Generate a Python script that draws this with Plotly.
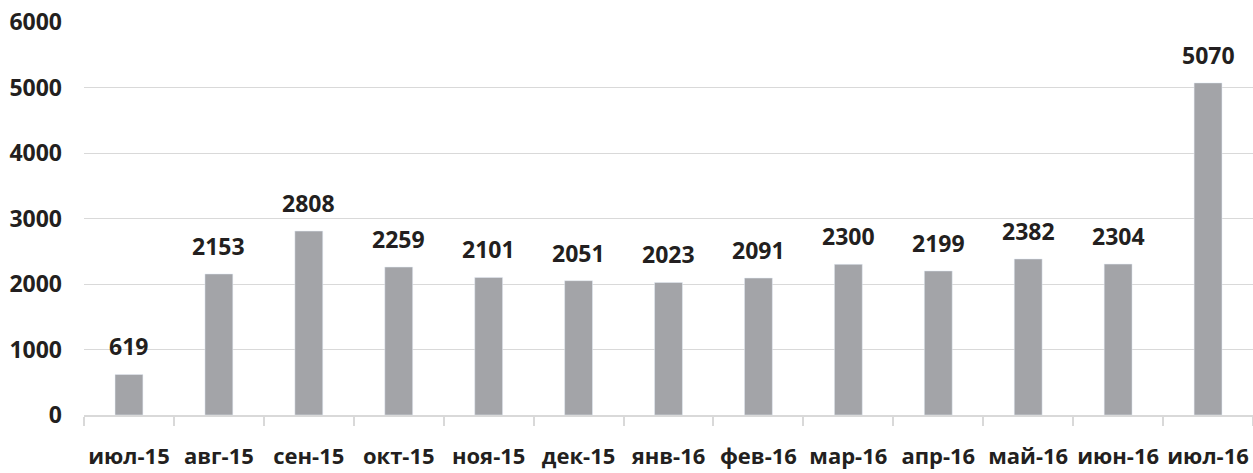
import plotly.graph_objects as go

categories = ["июл-15", "авг-15", "сен-15", "окт-15", "ноя-15", "дек-15", "янв-16",
              "фев-16", "мар-16", "апр-16", "май-16", "июн-16", "июл-16"]
values = [619, 2153, 2808, 2259, 2101, 2051, 2023, 2091, 2300, 2199, 2382, 2304, 5070]
y_ticks = [0, 1000, 2000, 3000, 4000, 5000, 6000]

FONT = "Open Sans"
TEXT_COLOR = "#231f20"

fig = go.Figure(go.Bar(x=categories, y=values, marker_color="#a3a4a8", width=0.31,
                       hoverinfo="x+y"))

for c, v in zip(categories, values):
    fig.add_annotation(x=c, y=v, text=f"<b>{v}</b>", showarrow=False,
                       yanchor="middle", yshift=28,
                       font=dict(family=FONT, size=23, color=TEXT_COLOR))

fig.update_layout(
    width=1253, height=473,
    margin=dict(l=84, r=0, t=22, b=58),
    paper_bgcolor="white", plot_bgcolor="white",
    showlegend=False,
    font=dict(family=FONT, size=23, color=TEXT_COLOR),
)
fig.update_yaxes(range=[0, 6000], tickvals=y_ticks,
                 ticktext=[f"<b>{t}</b>" for t in y_ticks],
                 showgrid=True, gridcolor="#d9d9d9", gridwidth=1,
                 zeroline=False, showline=False, ticks="",
                 ticklabelstandoff=21, automargin=False,
                 tickfont=dict(family=FONT, size=23, color=TEXT_COLOR))
fig.update_xaxes(tickvals=categories, ticktext=[f"<b>{c}</b>" for c in categories],
                 showline=True, linecolor="#d9d9d9", linewidth=1.5,
                 ticks="outside", tickson="boundaries", ticklen=9,
                 tickcolor="#d9d9d9", tickwidth=1.5,
                 tickangle=0, automargin=False,
                 ticklabelstandoff=21,
                 tickfont=dict(family=FONT, size=22, color=TEXT_COLOR))

fig.write_html("out.html")
